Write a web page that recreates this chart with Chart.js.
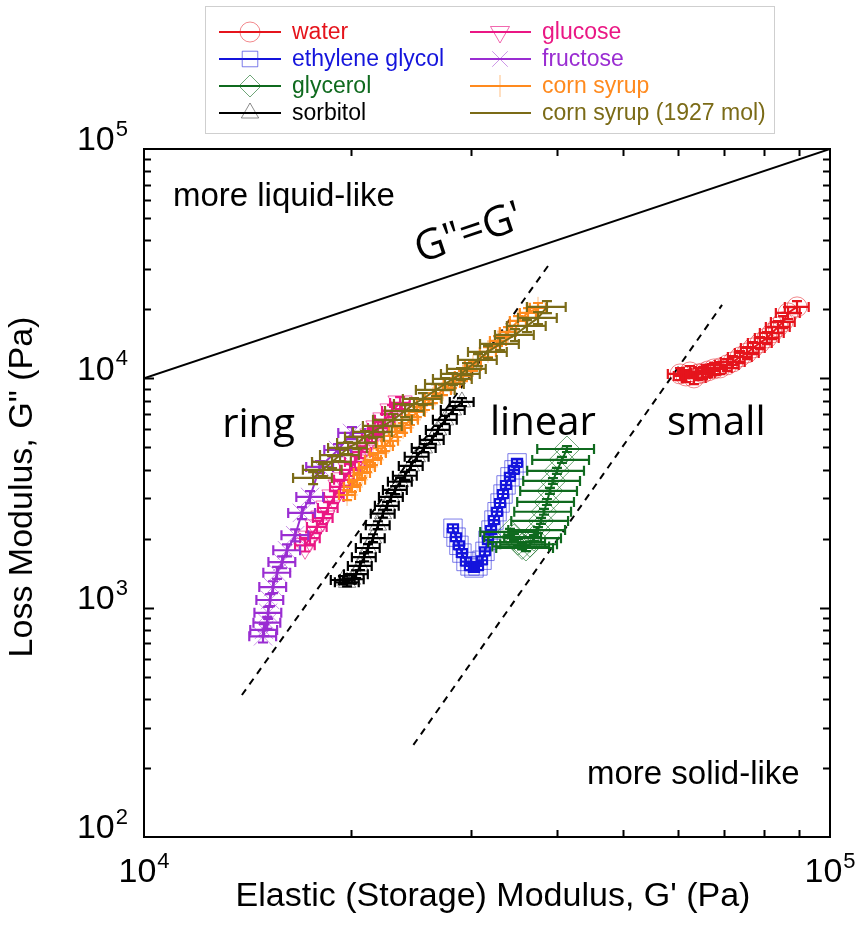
<!DOCTYPE html>
<html>
<head>
<meta charset="utf-8">
<script src="https://cdn.jsdelivr.net/npm/chart.js@4/dist/chart.umd.min.js"></script>
<style>
html,body{margin:0;padding:0;background:#ffffff;}
#wrap{position:relative;width:866px;height:937px;}
</style>
</head>
<body>
<div id="wrap"><canvas id="c" width="866" height="937"></canvas></div>
<script>
// ---------------- DATA (G' [Pa], G'' [Pa]) ----------------
const seriesNames = ['water','ethylene glycol','glycerol','sorbitol','glucose','fructose','corn syrup','corn syrup (1927 mol)'];

const water = [[60440,10450],[61670,10240],[62500,10660],[63340,10040],[64200,10450],[65300,10560],[66400,10770],[67750,10990],[69140,11100],[70780,11440],[72210,11790],[73940,12400],[75690,12900],[77230,13570],[79070,14270],[80940,15010],[82320,15780],[83990,16760],[85420,17620],[86860,19290],[89520,20490]];

const ethyleneGlycol = [[28210,2220],[28500,2030],[28780,1870],[29070,1730],[29470,1590],[29870,1520],[30270,1490],[30680,1520],[31100,1610],[31410,1760],[31730,1970],[32050,2180],[32370,2410],[32710,2620],[33040,2860],[33370,3130],[33710,3430],[34160,3720],[34620,3990],[34980,4280]];

const glycerol = [[34160,2140],[34620,2030],[35090,1930],[35570,1850],[36040,1820],[36530,1890],[37020,2010],[37530,2180],[37910,2390],[38290,2620],[38670,2890],[39060,3230],[39460,3570],[39990,3950],[40670,4410],[41360,4920]];

const sorbitol = [[19500,1320],[19770,1290],[20100,1330],[20380,1400],[20650,1520],[20930,1660],[21210,1820],[21570,2010],[21930,2290],[22300,2570],[22610,2780],[22920,3040],[23230,3260],[23620,3540],[24020,3760],[24500,4150],[24990,4550],[25590,4970],[26290,5390],[26830,5960],[27470,6590],[28210,7280],[29070,7890]];

const glucose = [[17170,1870],[17460,2010],[17870,2250],[18230,2460],[18540,2720],[18920,3040],[19310,3360],[19570,3610],[19970,3990],[20300,4320],[20720,4770],[21140,5230],[21490,5610],[21930,6080],[22450,6590],[22990,7210],[23620,7810]];

const fructose = [[20100,5780],[19180,4870],[18050,4110],[17460,3040],[16990,2590],[16610,2070],[16160,1780],[15900,1580],[15630,1420],[15420,1230],[15270,1080],[15170,950],[15120,860],[14960,800],[14910,750]];

const cornSyrup = [[19770,3100],[20100,3360],[20450,3610],[20790,3870],[21140,4110],[21570,4410],[21930,4720],[22450,5070],[22840,5340],[23380,5840],[23860,6080],[24420,6590],[24990,7130],[25680,7660],[26370,8210],[27280,8900],[28120,9550],[29170,10240],[30170,11330],[31730,13040],[32820,14560],[33930,15940],[35090,17800],[36290,19290],[37530,20290]];

const cornSyrup1927 = [[17640,3680],[18230,3990],[18800,4320],[19310,4630],[19840,4970],[20450,5230],[21000,5560],[21570,5840],[22300,6200],[23070,6590],[24020,7210],[24750,7730],[25500,8130],[26640,8900],[27470,9450],[28210,9940],[28980,10450],[29570,10990],[30680,12030],[31730,13040],[33040,14130],[34740,15470],[36160,16930],[37530,18340],[38670,20490]];

// relative error bars (fraction of value) per series
const xErrFrac = [0.040,0.017,0.095,0.040,0.033,0.045,0.027,0.065];
const yErrFrac = [0.060,0.040,0.030,0.040,0.060,0.060,0.050,0.060];

// reference lines
const unityLine = [[1e4,1e4],[1e5,1e5]];
const dashLineRing = [[13890,416],[38900,31200]];
const dashLineSmall = [[24700,252],[69600,20900]];

// axis tick labels (powers of ten)
const xTickExponents = [4,5];
const yTickExponents = [2,3,4,5];

// annotations: text and anchor in data coordinates
const annotations = [
  {text:'more liquid-like', x:11020, y:56480, font:'33px "Liberation Sans", Arial, sans-serif'},
  {text:'more solid-like', x:44230, y:170, font:'33px "Liberation Sans", Arial, sans-serif'},
  {text:'ring', x:13000, y:5550, font:'40px "Open Sans", sans-serif'},
  {text:'linear', x:31940, y:5665, font:'40px "Open Sans", sans-serif'},
  {text:'small', x:57860, y:5665, font:'40px "Open Sans", sans-serif'}
];
const unityLabel = {text:'G"=G\'', x:25250, y:31870};

// ---------------- STYLES ----------------
const seriesData = [water, ethyleneGlycol, glycerol, sorbitol, glucose, fructose, cornSyrup, cornSyrup1927];
const lineColors = ['#e5141c','#1414dc','#0f6a1e','#000000','#ea1784','#9a2dd2','#ff8a1e','#7b6b17'];
const markerColors = ['rgba(229,20,28,0.5)','rgba(40,40,220,0.6)','rgba(15,106,30,0.6)','rgba(0,0,0,0.45)','rgba(234,23,132,0.65)','rgba(154,45,210,0.5)','rgba(255,138,30,0.55)','rgba(0,0,0,0)'];
const shapes = ['circle','rect','rectRot','triangle','triangle','crossRot','cross',false];
const rotations = [0,0,0,0,180,0,0,0];
const radii = [10,13,13,10,14,13,11,0];

const datasets = seriesData.map((arr, i) => ({
  label: seriesNames[i],
  data: arr.map(p => ({x:p[0], y:p[1]})),
  showLine: true,
  borderColor: lineColors[i],
  borderWidth: 2,
  pointStyle: shapes[i],
  pointRadius: radii[i],
  pointRotation: rotations[i],
  pointBorderColor: markerColors[i],
  pointBackgroundColor: 'rgba(0,0,0,0)',
  pointBorderWidth: 1,
  errX: xErrFrac[i],
  errY: yErrFrac[i],
  errColor: lineColors[i],
  isSeries: true,
  order: 20 - i
}));
function refLine(arr, dash) {
  return {label:'', data: arr.map(p => ({x:p[0], y:p[1]})), showLine:true, borderColor:'#000', borderWidth:2,
    borderDash: dash, pointRadius:0, isSeries:false, order:100};
}
datasets.push(refLine(unityLine, []));
datasets.push(refLine(dashLineRing, [7,6]));
datasets.push(refLine(dashLineSmall, [7,6]));

const SANS = '"Liberation Sans", Arial, sans-serif';

function drawMarker(ctx, style, x, y, r, rot, color) {
  if (!style) return;
  ctx.save();
  ctx.translate(x, y);
  ctx.rotate(rot * Math.PI / 180);
  ctx.strokeStyle = color; ctx.lineWidth = 1;
  ctx.beginPath();
  if (style === 'circle') { ctx.arc(0,0,r,0,Math.PI*2); }
  else if (style === 'rect') { const s = r*Math.SQRT1_2; ctx.rect(-s,-s,2*s,2*s); }
  else if (style === 'rectRot') { ctx.moveTo(0,-r); ctx.lineTo(r,0); ctx.lineTo(0,r); ctx.lineTo(-r,0); ctx.closePath(); }
  else if (style === 'triangle') {
    ctx.moveTo(0,-r); ctx.lineTo(r*Math.sin(Math.PI*2/3), r*0.5); ctx.lineTo(-r*Math.sin(Math.PI*2/3), r*0.5); ctx.closePath();
  }
  else if (style === 'crossRot') { const s=r*Math.SQRT1_2; ctx.moveTo(-s,-s); ctx.lineTo(s,s); ctx.moveTo(s,-s); ctx.lineTo(-s,s); }
  else if (style === 'cross') { ctx.moveTo(0,-r); ctx.lineTo(0,r); ctx.moveTo(-r,0); ctx.lineTo(r,0); }
  ctx.stroke();
  ctx.restore();
}

function drawPow(ctx, exp, x, y, align) {
  ctx.save();
  ctx.fillStyle = '#000';
  ctx.textBaseline = 'middle';
  ctx.textAlign = 'left';
  ctx.font = '34px ' + SANS;
  const w1 = ctx.measureText('10').width;
  ctx.font = '22px ' + SANS;
  const w2 = ctx.measureText(String(exp)).width;
  const total = w1 + w2 + 1;
  const x0 = align === 'center' ? x - total/2 : x - total;
  ctx.font = '34px ' + SANS;
  ctx.fillText('10', x0, y);
  ctx.font = '22px ' + SANS;
  ctx.fillText(String(exp), x0 + w1 + 1, y - 11);
  ctx.restore();
}

const errorBarPlugin = {
  id: 'errorBars',
  afterDatasetDraw(chart, args) {
    const ds = chart.data.datasets[args.index];
    if (!ds.isSeries) return;
    const xs = chart.scales.x, ys = chart.scales.y, ca = chart.chartArea, ctx = chart.ctx;
    ctx.save();
    ctx.beginPath(); ctx.rect(ca.left, ca.top, ca.right-ca.left, ca.bottom-ca.top); ctx.clip();
    ctx.strokeStyle = ds.errColor; ctx.lineWidth = 2.2;
    const cap = 5;
    ds.data.forEach(p => {
      const px = xs.getPixelForValue(p.x), py = ys.getPixelForValue(p.y);
      const xl = xs.getPixelForValue(p.x*(1-ds.errX)), xr = xs.getPixelForValue(p.x*(1+ds.errX));
      const yb = ys.getPixelForValue(p.y*(1-ds.errY)), yt = ys.getPixelForValue(p.y*(1+ds.errY));
      ctx.beginPath();
      ctx.moveTo(xl, py); ctx.lineTo(xr, py);
      ctx.moveTo(xl, py-cap); ctx.lineTo(xl, py+cap);
      ctx.moveTo(xr, py-cap); ctx.lineTo(xr, py+cap);
      ctx.moveTo(px, yb); ctx.lineTo(px, yt);
      ctx.moveTo(px-cap, yb); ctx.lineTo(px+cap, yb);
      ctx.moveTo(px-cap, yt); ctx.lineTo(px+cap, yt);
      ctx.stroke();
    });
    ctx.restore();
  }
};

const decorPlugin = {
  id: 'decor',
  afterDraw(chart) {
    const ctx = chart.ctx, ca = chart.chartArea, xs = chart.scales.x, ys = chart.scales.y;
    ctx.save();
    // frame
    ctx.strokeStyle = '#000'; ctx.lineWidth = 2;
    ctx.strokeRect(ca.left, ca.top, ca.right-ca.left, ca.bottom-ca.top);
    // ticks
    ctx.beginPath();
    for (let e = 4; e < 5; e++) for (let m = 2; m <= 9; m++) {
      const px = Math.round(xs.getPixelForValue(m*Math.pow(10,e))) + 0.5;
      ctx.moveTo(px, ca.bottom); ctx.lineTo(px, ca.bottom-7);
      ctx.moveTo(px, ca.top); ctx.lineTo(px, ca.top+7);
    }
    for (let e = 2; e < 5; e++) for (let m = 1; m <= 9; m++) {
      const v = m*Math.pow(10,e);
      if (v <= 100) continue;
      const py = Math.round(ys.getPixelForValue(v)) + 0.5;
      const L = m === 1 ? 10 : 7;
      ctx.moveTo(ca.left, py); ctx.lineTo(ca.left+L, py);
      ctx.moveTo(ca.right, py); ctx.lineTo(ca.right-L, py);
    }
    ctx.stroke();
    // tick labels
    xTickExponents.forEach(e => drawPow(ctx, e, xs.getPixelForValue(Math.pow(10,e)), ca.bottom + 36, 'center'));
    yTickExponents.forEach(e => drawPow(ctx, e, 128, ys.getPixelForValue(Math.pow(10,e)) - 8, 'right'));
    // axis titles
    ctx.fillStyle = '#000';
    ctx.font = '34px ' + SANS;
    ctx.textAlign = 'center'; ctx.textBaseline = 'middle';
    ctx.fillText("Elastic (Storage) Modulus, G' (Pa)", 493, 897);
    ctx.save();
    ctx.translate(23, 487);
    ctx.rotate(-Math.PI/2);
    ctx.fillText('Loss Modulus, G" (Pa)', 0, 0);
    ctx.restore();
    // annotations
    ctx.textAlign = 'left'; ctx.textBaseline = 'alphabetic';
    annotations.forEach(a => {
      ctx.font = a.font;
      ctx.fillText(a.text, xs.getPixelForValue(a.x), ys.getPixelForValue(a.y));
    });
    // unity label rotated along G''=G'
    const ang = Math.atan2(ys.getPixelForValue(1e5)-ys.getPixelForValue(1e4), xs.getPixelForValue(1e5)-xs.getPixelForValue(1e4));
    ctx.save();
    ctx.translate(xs.getPixelForValue(unityLabel.x), ys.getPixelForValue(unityLabel.y));
    ctx.rotate(ang);
    ctx.font = '42px "Open Sans", sans-serif';
    ctx.fillText(unityLabel.text, 0, 0);
    ctx.restore();
    // legend
    const box = {x:205.5, y:6.5, w:569, h:127};
    ctx.fillStyle = '#fff';
    ctx.fillRect(box.x, box.y, box.w, box.h);
    ctx.strokeStyle = '#cfcfcf'; ctx.lineWidth = 1;
    ctx.strokeRect(box.x, box.y, box.w, box.h);
    const rows = [32, 59, 86, 113];
    const cols = [{l0:219,l1:281,m:250,t:292},{l0:470,l1:531,m:500,t:542}];
    ctx.font = '23px ' + SANS;
    ctx.textBaseline = 'middle'; ctx.textAlign = 'left';
    chart.data.datasets.forEach((ds, i) => {
      if (!ds.isSeries) return;
      const c = cols[Math.floor(i/4)], y = rows[i%4];
      ctx.strokeStyle = lineColors[i]; ctx.lineWidth = 2;
      ctx.beginPath(); ctx.moveTo(c.l0, y); ctx.lineTo(c.l1, y); ctx.stroke();
      drawMarker(ctx, shapes[i], c.m, y, Math.min(radii[i], 11), rotations[i], markerColors[i]);
      ctx.fillStyle = lineColors[i];
      ctx.fillText(seriesNames[i], c.t, y + 1);
    });
    ctx.restore();
  }
};

new Chart(document.getElementById('c'), {
  type: 'scatter',
  data: { datasets },
  options: {
    responsive: false,
    devicePixelRatio: 1,
    animation: false,
    layout: { padding: { left: 0, top: 149, right: 36, bottom: 0 } },
    plugins: { legend: { display: false }, tooltip: { enabled: false } },
    elements: { line: { tension: 0 } },
    scales: {
      x: { type: 'logarithmic', min: 1e4, max: 1e5,
           ticks: { display: false }, grid: { display: false }, border: { display: false },
           afterFit(s) { s.height = 100; } },
      y: { type: 'logarithmic', min: 100, max: 1e5,
           ticks: { display: false }, grid: { display: false }, border: { display: false },
           afterFit(s) { s.width = 144; } }
    }
  },
  plugins: [errorBarPlugin, decorPlugin]
});
</script>
</body>
</html>
